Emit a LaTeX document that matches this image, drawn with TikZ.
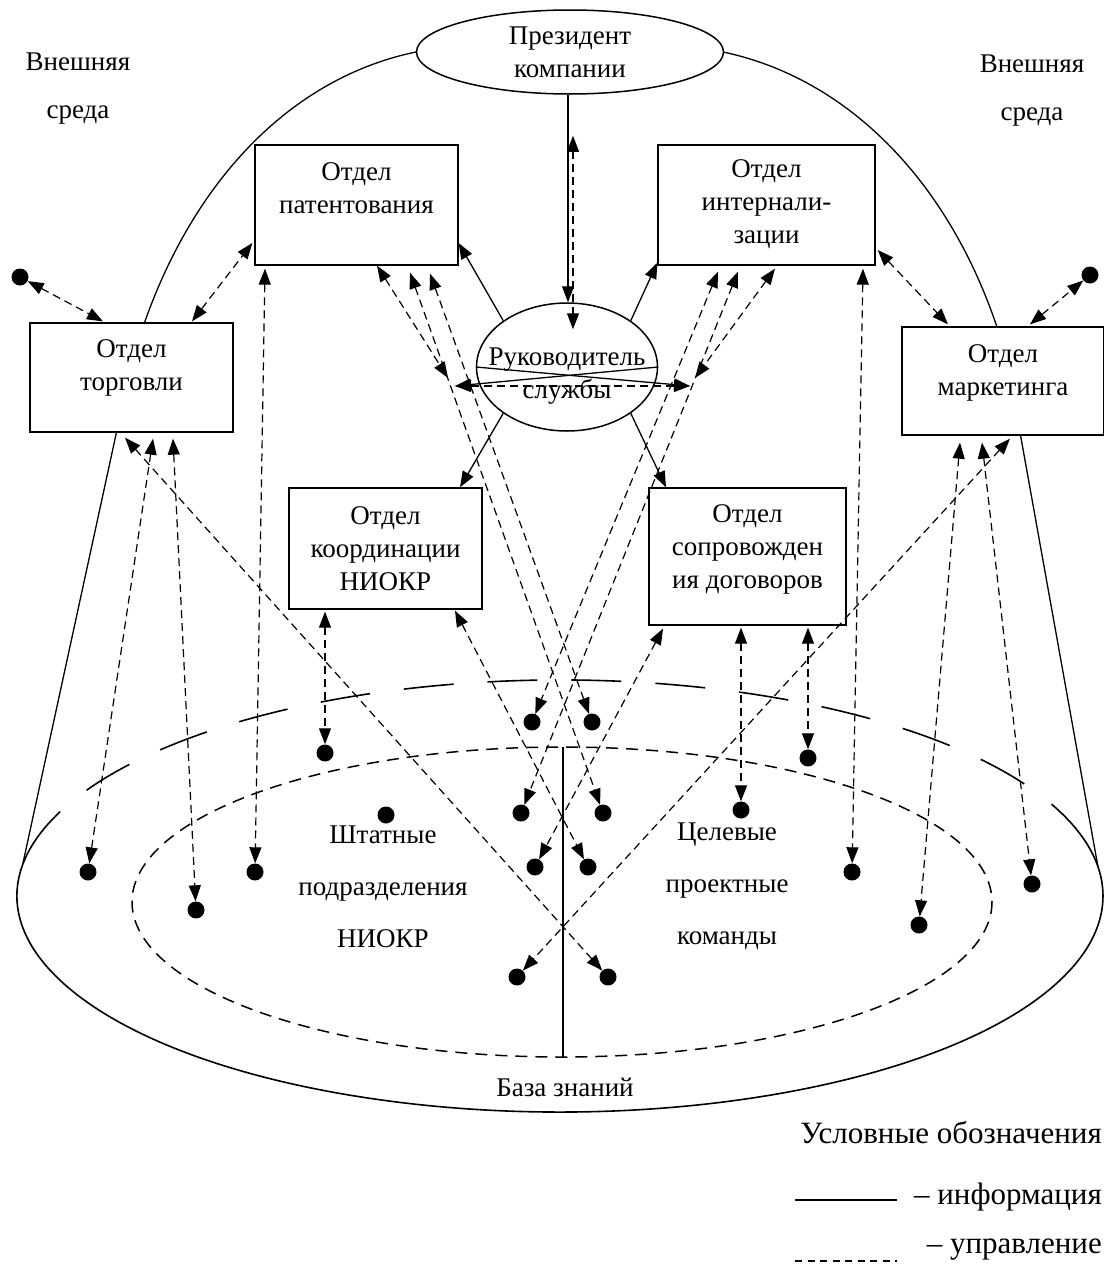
\documentclass[tikz,border=0pt]{standalone}
\usepackage{fontspec}
\setmainfont{Liberation Serif}
\usetikzlibrary{arrows.meta,shapes.geometric,calc}

\begin{document}
\begin{tikzpicture}[x=1pt,y=-1pt,
  every node/.style={inner sep=0pt},
  txt/.style={font=\fontsize{27}{33}\selectfont, align=center},
  legtxt/.style={font=\fontsize{31}{36}\selectfont, anchor=east},
  unit/.style={draw, line width=1.3pt, fill=white, rectangle},
  oval/.style={draw, line width=1.5pt, fill=white, ellipse},
  pt/.style={circle, fill=black, minimum size=17pt},
  ctrl/.style={line width=1.2pt, dash pattern=on 8pt off 5pt,
    {Triangle[length=16pt,width=12pt]}-{Triangle[length=16pt,width=12pt]}},
  info/.style={line width=1.3pt, -{Triangle[length=16pt,width=12pt]}},
  rim/.style={line width=1.6pt},
]
\useasboundingbox (0,0) rectangle (1103,1274);

% outer dome (boundary of the company)
\draw[line width=1.3pt] (23,863) -- (130,370) .. controls (175,200) and (280,80) .. (416,52);
\draw[line width=1.3pt] (1098,867) -- (1007,360) .. controls (962,195) and (856,80) .. (723,52);

% knowledge base: solid front half, long-dashed back half
\draw[rim] (560,896) ++(201.5:543 and 216)
  arc[start angle=201.5, end angle=-17, x radius=543, y radius=216];
\draw[rim, dash pattern=on 50pt off 34pt, dash phase=10pt] (560,896) ++(-17:543 and 216)
  arc[start angle=-17, end angle=-158.5, x radius=543, y radius=216];

% inner area split in two halves
\draw[line width=1.5pt, dash pattern=on 12pt off 8pt] (562,902) ellipse [x radius=430, y radius=155];
\draw[line width=1.3pt] (563,747) -- (563,1058);

% units
\node[oval, minimum width=307pt, minimum height=84pt, txt] (pres) at (570,52) {Президент\\компании};
\node[oval, minimum width=181pt, minimum height=128pt] (head) at (567,367) {};
\node[unit, minimum width=203pt, minimum height=109pt] (trade) at (131.5,377.5) {};
\node[unit, minimum width=203pt, minimum height=120pt] (patent) at (356.5,205) {};
\node[unit, minimum width=217pt, minimum height=120pt] (intern) at (766.5,205) {};
\node[unit, minimum width=202pt, minimum height=108pt] (market) at (1003,381) {};
\node[unit, minimum width=193pt, minimum height=121pt] (coord) at (385.5,548.5) {};
\node[unit, minimum width=197pt, minimum height=137pt] (contr) at (747.5,556.5) {};

\node[txt] (headT) at (567,376) {Руководитель\\службы};
\node[txt] (tradeT) at (131.5,367.5) {Отдел\\торговли};
\node[txt] (patentT) at (356.5,188) {Отдел\\патентования};
\node[txt] (internT) at (766.5,204) {Отдел\\интернали-\\зации};
\node[txt] (marketT) at (1003,373) {Отдел\\маркетинга};
\node[txt] (coordT) at (385.5,549) {Отдел\\координации\\НИОКР};
\node[txt] (contrT) at (747.5,549) {Отдел\\сопровожден\\ия договоров};

\node[txt] (envL) at (78,89) {Внешняя\\[15pt]среда};
\node[txt] (envR) at (1032,91) {Внешняя\\[15pt]среда};
\node[txt] (staff) at (383,887) {Штатные\\[19pt]подразделения\\[19pt]НИОКР};
\node[txt] (teams) at (727,886) {Целевые\\[19pt]проектные\\[19pt]команды};
\node[txt] (kb) at (565,1087) {База знаний};

% executors
\node[pt] (dL) at (20,277) {};
\node[pt] (dR) at (1090,275) {};
\node[pt] (d1) at (532,722) {};
\node[pt] (d2) at (592,722) {};
\node[pt] (d3) at (325,753) {};
\node[pt] (d4) at (808,758) {};
\node[pt] (d5) at (386,815) {};
\node[pt] (d6) at (521,813) {};
\node[pt] (d7) at (603,813) {};
\node[pt] (d8) at (741,810) {};
\node[pt] (d9) at (88,872) {};
\node[pt] (d10) at (255,872) {};
\node[pt] (d11) at (535,867) {};
\node[pt] (d12) at (588,867) {};
\node[pt] (d13) at (852,872) {};
\node[pt] (d14) at (1032,884) {};
\node[pt] (d15) at (196,910) {};
\node[pt] (d16) at (919,925) {};
\node[pt] (d17) at (517,977) {};
\node[pt] (d18) at (608,977) {};

\coordinate (hl) at (448,378);
\coordinate (hr) at (695,378);
\coordinate (hlh) at (455,386);
\coordinate (hrh) at (690,386);

% information flows
\draw[info] ([xshift=-2pt]pres.south) -- ([xshift=-2pt]pres.south |- head.north);
\draw[info] (head.144) -- ([yshift=-38pt]patent.east);
\draw[info] (head.36) -- ([yshift=3pt]intern.south west);
\draw[info] (head.216) -- ([xshift=74.5pt]coord.north);
\draw[info] (head.324) -- ([xshift=-81.5pt]contr.north);
\draw[info] (head.west) -- (hrh);
\draw[info] (head.east) -- (hlh);

% control flows
\draw[ctrl] ([xshift=3pt,yshift=-41pt]pres.south) -- ([xshift=6pt,yshift=-27pt]head.north);
\draw[ctrl] (hlh) -- (hrh);
\draw[ctrl] (dL) -- ([xshift=-28.5pt,yshift=1pt]trade.north);
\draw[ctrl] ([xshift=60.5pt,yshift=1pt]trade.north) -- ([xshift=-2pt,yshift=-38pt]patent.west);
\draw[ctrl] ([xshift=-6.5pt,yshift=-5pt]trade.south) -- (d18);
\draw[ctrl] ([xshift=21.5pt,yshift=-6pt]trade.south) -- (d9);
\draw[ctrl] ([xshift=41.5pt,yshift=-6pt]trade.south) -- (d15);
\draw[ctrl] ([xshift=-91.5pt,yshift=-3pt]patent.south) -- (d10);
\draw[ctrl] ([xshift=20.5pt,yshift=0pt]patent.south) -- (hl);
\draw[ctrl] ([xshift=53.5pt,yshift=-7pt]patent.south) -- (d7);
\draw[ctrl] ([xshift=73.5pt,yshift=-8pt]patent.south) -- (d2);
\draw[ctrl] ([xshift=-48.5pt,yshift=-6pt]intern.south) -- (d1);
\draw[ctrl] ([xshift=-28.5pt,yshift=-6pt]intern.south) -- (d6);
\draw[ctrl] ([xshift=8.5pt,yshift=-3pt]intern.south) -- (hr);
\draw[ctrl] ([xshift=96.5pt,yshift=-3pt]intern.south) -- (d13);
\draw[ctrl] ([xshift=2pt,yshift=-45pt]intern.east) -- ([xshift=-55pt,yshift=2pt]market.north);
\draw[ctrl] ([xshift=27pt,yshift=2pt]market.north) -- (dR);
\draw[ctrl] ([xshift=-43pt,yshift=-7pt]market.south) -- (d16);
\draw[ctrl] ([xshift=-21pt,yshift=-7pt]market.south) -- (d14);
\draw[ctrl] ([xshift=7pt,yshift=-3pt]market.south) -- (d17);
\draw[ctrl] ([xshift=-60.5pt,yshift=-2pt]coord.south) -- (d3);
\draw[ctrl] ([xshift=69.5pt,yshift=-1pt]coord.south) -- (d12);
\draw[ctrl] ([xshift=-84.5pt,yshift=-3pt]contr.south) -- (d11);
\draw[ctrl] ([xshift=-6.5pt,yshift=-2pt]contr.south) -- (d8);
\draw[ctrl] ([xshift=60.5pt,yshift=-2pt]contr.south) -- (d4);

% legend
\node[legtxt] (legT) at (1102,1133) {Условные обозначения};
\coordinate (li1) at (795,1200);
\coordinate (li2) at (897,1200);
\draw[line width=1.3pt] (li1) -- (li2);
\node[legtxt] (legI) at (1102,1197) {– информация};
\coordinate (lc1) at (795,1261);
\coordinate (lc2) at (897,1261);
\draw[line width=1.3pt, dash pattern=on 7pt off 5.5pt] (lc1) -- (lc2);
\node[legtxt] (legU) at (1102,1250) {– управление};
\end{tikzpicture}
\end{document}
